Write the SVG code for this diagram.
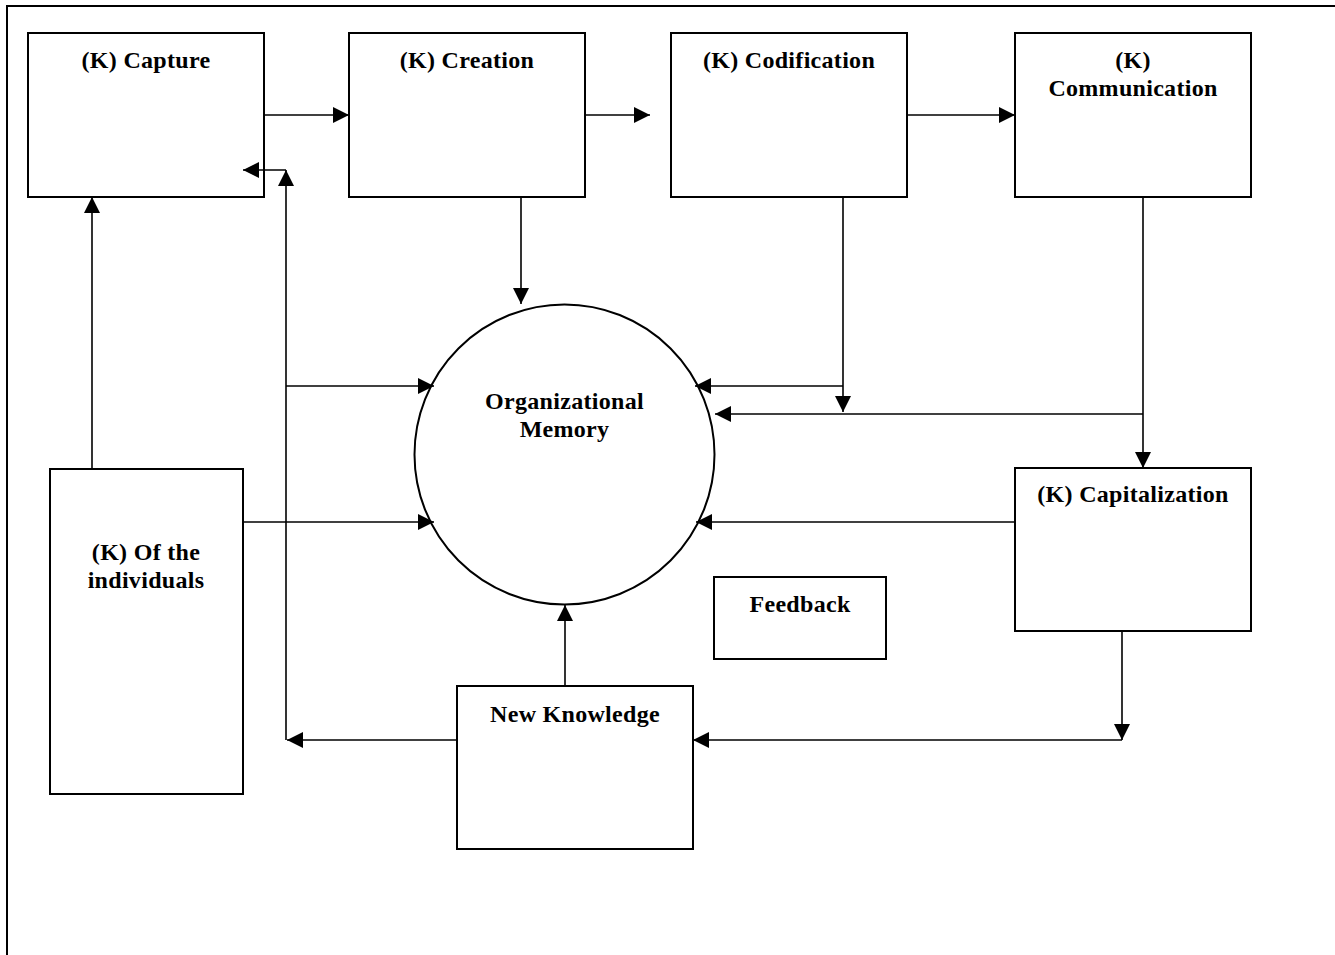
<svg xmlns="http://www.w3.org/2000/svg" width="1335" height="955" viewBox="0 0 1335 955">
<style>
.box{fill:#fff;stroke:#000;stroke-width:2}
.lbl{font-family:"Liberation Serif","Times New Roman",serif;font-weight:bold;font-size:24px;letter-spacing:0.3px;fill:#000;text-anchor:middle}
.c{fill:none;stroke:#000;stroke-width:1.6}
</style>
<defs>
<marker id="ah" markerUnits="userSpaceOnUse" markerWidth="16" markerHeight="16" viewBox="0 0 14 14" refX="14" refY="7" orient="auto">
<path d="M0,0 L14,7 L0,14 Z" fill="#000"/>
</marker>
</defs>
<rect width="1335" height="955" fill="#fff"/>
<path d="M7,960 V6 H1340" fill="none" stroke="#000" stroke-width="2"/>
<g id="capture"><rect class="box" x="28" y="33" width="236" height="164"/><text class="lbl" x="146" y="68">(K) Capture</text></g>
<g id="creation"><rect class="box" x="349" y="33" width="236" height="164"/><text class="lbl" x="467" y="68">(K) Creation</text></g>
<g id="codification"><rect class="box" x="671" y="33" width="236" height="164"/><text class="lbl" x="789" y="68">(K) Codification</text></g>
<g id="communication"><rect class="box" x="1015" y="33" width="236" height="164"/><text class="lbl" x="1133" y="68">(K)</text><text class="lbl" x="1133" y="96">Communication</text></g>
<g id="memory"><circle class="box" cx="564.5" cy="454.5" r="150"/><text class="lbl" x="564.5" y="409">Organizational</text><text class="lbl" x="564.5" y="437">Memory</text></g>
<g id="capitalization"><rect class="box" x="1015" y="468" width="236" height="163"/><text class="lbl" x="1133" y="502">(K) Capitalization</text></g>
<g id="individuals"><rect class="box" x="50" y="469" width="193" height="325"/><text class="lbl" x="146" y="560">(K) Of the</text><text class="lbl" x="146" y="588">individuals</text></g>
<g id="feedback"><rect class="box" x="714" y="577" width="172" height="82"/><text class="lbl" x="800" y="612">Feedback</text></g>
<g id="newknowledge"><rect class="box" x="457" y="686" width="236" height="163"/><text class="lbl" x="575" y="722">New Knowledge</text></g>
<g id="connectors">
<path class="c" d="M264,115 H349" marker-end="url(#ah)"/>
<path class="c" d="M585,115 H650" marker-end="url(#ah)"/>
<path class="c" d="M907,115 H1015" marker-end="url(#ah)"/>
<path class="c" d="M521,197 V304" marker-end="url(#ah)"/>
<path class="c" d="M843,197 V412" marker-end="url(#ah)"/>
<path class="c" d="M843,386 H695" marker-end="url(#ah)"/>
<path class="c" d="M1143,197 V468" marker-end="url(#ah)"/>
<path class="c" d="M1143,414 H715" marker-end="url(#ah)"/>
<path class="c" d="M1015,522 H696" marker-end="url(#ah)"/>
<path class="c" d="M1122,631 V740" marker-end="url(#ah)"/>
<path class="c" d="M1122,740 H693" marker-end="url(#ah)"/>
<path class="c" d="M565,686 V605" marker-end="url(#ah)"/>
<path class="c" d="M457,740 H287" marker-end="url(#ah)"/>
<path class="c" d="M286,740 V170" marker-end="url(#ah)"/>
<path class="c" d="M286,170 H243" marker-end="url(#ah)"/>
<path class="c" d="M286,386 H434" marker-end="url(#ah)"/>
<path class="c" d="M243,522 H434" marker-end="url(#ah)"/>
<path class="c" d="M92,469 V197" marker-end="url(#ah)"/>
</g>
</svg>
